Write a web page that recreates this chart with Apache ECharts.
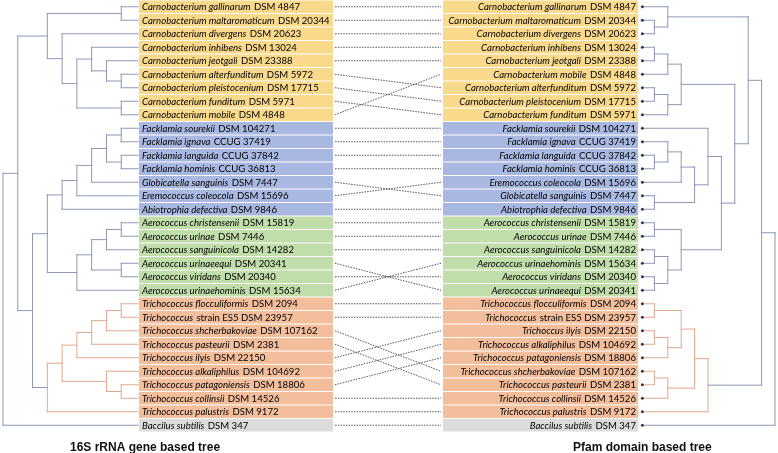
<!DOCTYPE html>
<html><head><meta charset="utf-8">
<script src="https://cdn.jsdelivr.net/npm/echarts@6/dist/echarts.min.js"></script>
<style>html,body{margin:0;padding:0;background:#fff}#c{width:778px;height:453px}</style>
</head><body><div id="c"></div>
<script>
// ---------- data ----------
const leftItalic = ['Carnobacterium gallinarum','Carnobacterium maltaromaticum','Carnobacterium divergens','Carnobacterium inhibens','Carnobacterium jeotgali','Carnobacterium alterfunditum','Carnobacterium pleistocenium','Carnobacterium funditum','Carnobacterium mobile',
 'Facklamia sourekii','Facklamia ignava','Facklamia languida','Facklamia hominis','Globicatella sanguinis','Eremococcus coleocola','Abiotrophia defectiva',
 'Aerococcus christensenii','Aerococcus urinae','Aerococcus sanguinicola','Aerococcus urinaeequi','Aerococcus viridans','Aerococcus urinaehominis',
 'Trichococcus flocculiformis','Trichococcus','Trichococcus shcherbakoviae','Trichococcus pasteurii','Trichococcus ilyis','Trichococcus alkaliphilus','Trichococcus patagoniensis','Trichococcus collinsii','Trichococcus palustris',
 'Baccilus subtilis'];
const leftStrain = ['DSM 4847','DSM 20344','DSM 20623','DSM 13024','DSM 23388','DSM 5972','DSM 17715','DSM 5971','DSM 4848',
 'DSM 104271','CCUG 37419','CCUG 37842','CCUG 36813','DSM 7447','DSM 15696','DSM 9846',
 'DSM 15819','DSM 7446','DSM 14282','DSM 20341','DSM 20340','DSM 15634',
 'DSM 2094','strain ES5 DSM 23957','DSM 107162','DSM 2381','DSM 22150','DSM 104692','DSM 18806','DSM 14526','DSM 9172',
 'DSM 347'];
const rightItalic = ['Carnobacterium gallinarum','Carnobacterium maltaromaticum','Carnobacterium divergens','Carnobacterium inhibens','Carnobacterium jeotgali','Carnobacterium mobile','Carnobacterium alterfunditum','Carnobacterium pleistocenium','Carnobacterium funditum',
 'Facklamia sourekii','Facklamia ignava','Facklamia languida','Facklamia hominis','Eremococcus coleocola','Globicatella sanguinis','Abiotrophia defectiva',
 'Aerococcus christensenii','Aerococcus urinae','Aerococcus sanguinicola','Aerococcus urinaehominis','Aerococcus viridans','Aerococcus urinaeequi',
 'Trichococcus flocculiformis','Trichococcus','Trichoccus ilyis','Trichococcus alkaliphilus','Trichococcus patagoniensis','Trichococcus shcherbakoviae','Trichococcus pasteurii','Trichococcus collinsii','Trichococcus palustris',
 'Baccilus subtilis'];
const rightStrain = ['DSM 4847','DSM 20344','DSM 20623','DSM 13024','DSM 23388','DSM 4848','DSM 5972','DSM 17715','DSM 5971',
 'DSM 104271','CCUG 37419','CCUG 37842','CCUG 36813','DSM 15696','DSM 7447','DSM 9846',
 'DSM 15819','DSM 7446','DSM 14282','DSM 15634','DSM 20340','DSM 20341',
 'DSM 2094','strain ES5 DSM 23957','DSM 22150','DSM 104692','DSM 18806','DSM 107162','DSM 2381','DSM 14526','DSM 9172',
 'DSM 347'];
const groupSizes = [9, 7, 6, 9, 1];
const groupColors = ['#F9D98C', '#A9B8E0', '#C1DDAA', '#F2BE9C', '#DCDCDC'];
const trichoGroup = 3;
// trees: [nodeLevel, childA, childB]; leaf = row index
const leftTree = [9,
  [8,
    [6, [1,0,1], [5, 2, [4, [3, 3, [2, 4, [1,5,6]]], [1,7,8]]]],
    [7,
      [6, [5,[4,[3,[2,[1,9,10],[1,11,12]],13],14],15],
          [4,[3,[2,[1,16,17],18],[1,19,20]],21]],
      [6, [5,[4,[3,[2,[1,22,23],24],25],26],[2,27,[1,28,29]]],30]
    ]
  ],
  31];
const rightTree = [10,
  [9,
    [8,
      [2, 0, [1,1,2]],
      [7,
        [3, [2,[1,3,4],5], [2,[1,6,7],8]],
        [6,
          [5, 9, [4, [3, [2, 10, [1,11,12]], 13], [1,14,15]]],
          [3, [1,16,17], [2, [1,18,19], [1,20,21]]]
        ]
      ]
    ],
    [5, [4, [3, [1,22,23], [2, [1,24,25], 26]], [2, [1,27,28], 29]], 30]
  ],
  31];

// ---------- derived ----------
const rowGroup = [];
groupSizes.forEach((n, g) => { for (let k = 0; k < n; k++) rowGroup.push(g); });
const N = rowGroup.length;
const GRAY = '#8E98B4', SALMON = '#E2A88F';

function buildSegments(tree, leafLevel) {
  const segs = [];
  function walk(node) {
    if (typeof node === 'number') return { y: node, lv: leafLevel, t: rowGroup[node] === trichoGroup };
    const lv = node[0];
    const a = walk(node[1]), b = walk(node[2]);
    const t = a.t && b.t;
    segs.push([lv, a.y, lv, b.y, t ? 1 : 0]);
    segs.push([lv, a.y, a.lv, a.y, t ? 1 : 0]);
    segs.push([lv, b.y, b.lv, b.y, t ? 1 : 0]);
    return { y: (a.y + b.y) / 2, lv: lv, t: t };
  }
  walk(tree);
  return segs;
}
const leftSegs = buildSegments(leftTree, -0.14);
const rightSegs = buildSegments(rightTree, 0.1);

const bandData = [];
for (let i = 0; i < N; i++) {
  bandData.push([0, i, rowGroup[i], 0]);
  bandData.push([1, i, rowGroup[i], 1]);
}
const linkData = [];
for (let i = 0; i < N; i++) {
  const j = rightStrain.indexOf(leftStrain[i]);
  linkData.push([i, j]);
}

// ---------- layout ----------
const GT = 0, GH = 432;
const yAxisBase = { type: 'value', min: -0.5, max: N - 0.5, inverse: true, show: false };
const BAND_L = [0, 194], BAND_R = [304, 499];

function segRender(params, api) {
  const p1 = api.coord([api.value(0), api.value(1)]);
  const p2 = api.coord([api.value(2), api.value(3)]);
  return { type: 'line', shape: { x1: p1[0], y1: p1[1], x2: p2[0], y2: p2[1] },
    style: { stroke: api.value(4) ? SALMON : GRAY, lineWidth: 1, lineCap: 'square' } };
}

const FONT = 'Lato';
const rich = {
  i: { fontStyle: 'italic', fontFamily: FONT, fontSize: 9.6, color: '#1b1b1b' },
  n: { fontFamily: FONT, fontSize: 9.6, color: '#1b1b1b' }
};

const option = {
  animation: false,
  backgroundColor: '#fff',
  grid: [
    { left: 3, top: GT, width: 133, height: GH },
    { left: 139, top: GT, width: 499, height: GH },
    { left: 641, top: GT, width: 134, height: GH }
  ],
  xAxis: [
    { gridIndex: 0, type: 'value', min: 0, max: 9, inverse: true, show: false },
    { gridIndex: 1, type: 'value', min: 0, max: 499, show: false },
    { gridIndex: 2, type: 'value', min: 0, max: 10, show: false }
  ],
  yAxis: [
    Object.assign({ gridIndex: 0 }, yAxisBase),
    Object.assign({ gridIndex: 1 }, yAxisBase),
    Object.assign({ gridIndex: 2 }, yAxisBase)
  ],
  title: [
    { text: '16S rRNA gene based tree', left: 65, top: 437,
      textStyle: { fontFamily: 'Liberation Sans', fontWeight: 'bold', fontSize: 12, color: '#111' } },
    { text: 'Pfam domain based tree', left: 568, top: 437,
      textStyle: { fontFamily: 'Liberation Sans', fontWeight: 'bold', fontSize: 12, color: '#111' } }
  ],
  series: [
    { type: 'custom', xAxisIndex: 0, yAxisIndex: 0, data: leftSegs, renderItem: segRender,
      encode: { x: [0, 2], y: [1, 3] }, silent: true },
    { type: 'custom', xAxisIndex: 2, yAxisIndex: 2, data: rightSegs, renderItem: segRender,
      encode: { x: [0, 2], y: [1, 3] }, silent: true },
    { type: 'scatter', xAxisIndex: 0, yAxisIndex: 0, symbolSize: 3, itemStyle: { color: '#111' },
      data: rowGroup.map((g, i) => [-0.14, i]), silent: true, z: 5 },
    { type: 'scatter', xAxisIndex: 2, yAxisIndex: 2, symbolSize: 3, itemStyle: { color: '#111' },
      data: rowGroup.map((g, i) => [0.1, i]), silent: true, z: 5 },
    { type: 'custom', xAxisIndex: 1, yAxisIndex: 1, data: bandData, silent: true,
      encode: { x: 0, y: 1 },
      renderItem: function (params, api) {
        const side = api.value(0), row = api.value(1), g = api.value(2);
        const band = side ? BAND_R : BAND_L;
        const a = api.coord([band[0], row]);
        const b = api.coord([band[1], row]);
        const h = api.size([0, 1])[1];
        const it = side ? rightItalic[row] : leftItalic[row];
        const st = side ? rightStrain[row] : leftStrain[row];
        return { type: 'group', children: [
          { type: 'rect', shape: { x: a[0], y: a[1] - h / 2 + 0.5, width: b[0] - a[0], height: h - 1 },
            style: { fill: groupColors[g] } },
          { type: 'text', style: { text: '{i|' + it + '} {n|' + st + '}', rich: rich,
              x: side ? b[0] - 2 : a[0] + 3, y: a[1] + 0.5, align: side ? 'right' : 'left', verticalAlign: 'middle' } }
        ] };
      } },
    { type: 'custom', xAxisIndex: 1, yAxisIndex: 1, data: linkData, silent: true,
      encode: { y: [0, 1] },
      renderItem: function (params, api) {
        const p1 = api.coord([BAND_L[1] + 2, api.value(0)]);
        const p2 = api.coord([BAND_R[0] - 2, api.value(1)]);
        return { type: 'line', shape: { x1: p1[0], y1: p1[1], x2: p2[0], y2: p2[1] },
          style: { stroke: '#444', lineWidth: 0.9, lineDash: [1.5, 1.2] } };
      } }
  ]
};
const chart = echarts.init(document.getElementById('c'), null, { renderer: 'canvas' });
chart.setOption(option);
</script></body></html>
